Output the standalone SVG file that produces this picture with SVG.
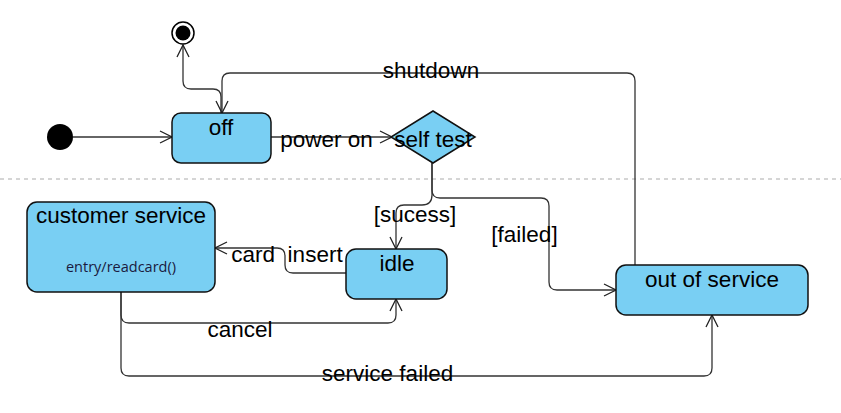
<svg xmlns="http://www.w3.org/2000/svg" width="841" height="413" viewBox="0 0 841 413">
<defs>
<marker id="arr" viewBox="0 0 14 14" refX="13" refY="7" markerWidth="14" markerHeight="14" markerUnits="userSpaceOnUse" orient="auto">
<path d="M1,1 L13,7 L1,13" fill="none" stroke="#222" stroke-width="1.3"/>
</marker>
<style>
.node{fill:#79CFF3;stroke:#111;stroke-width:1.5}
.lbl{font-family:"Liberation Sans",Arial,sans-serif;font-size:22.5px;fill:#000;text-anchor:middle}
.edge{fill:none;stroke:#333;stroke-width:1.3;marker-end:url(#arr)}
</style>
</defs>
<rect width="841" height="413" fill="#fff"/>
<line x1="0" y1="179" x2="841" y2="179" stroke="#c8c8c8" stroke-width="1.5" stroke-dasharray="4,4"/>
<g id="connectors">
<path class="edge" d="M73,137 H172"/>
<path class="edge" d="M271,137 H392"/>
<path class="edge" d="M221,113 V97 Q221,89 213,89 H191 Q183,89 183,81 V45"/>
<path class="edge" d="M635,265 V81 Q635,73 627,73 H230 Q222,73 222,81 V113"/>
<path class="edge" d="M432,163 V195 Q432,205 422,205 H404 Q396,205 396,213 V249"/>
<path class="edge" d="M432,163 V190 Q432,198 440,198 H541 Q549,198 549,206 V282 Q549,290 557,290 H616"/>
<path class="edge" d="M346,273 H293 Q285,273 285,265 V256 Q285,248 277,248 H215"/>
<path class="edge" d="M121,292 V315 Q121,323 129,323 H388 Q396,323 396,315 V299"/>
<path class="edge" d="M121,292 V368 Q121,376 129,376 H704 Q712,376 712,368 V315"/>
</g>
<g id="labels">
<text class="lbl" x="326.5" y="147">power on</text>
<text class="lbl" x="431" y="78">shutdown</text>
<text class="lbl" x="415" y="222">[sucess]</text>
<text class="lbl" x="524.5" y="242">[failed]</text>
<text class="lbl" x="287" y="262" xml:space="preserve">card  insert</text>
<text class="lbl" x="240" y="337">cancel</text>
<text class="lbl" x="387.5" y="381">service failed</text>
</g>
<g id="initial"><circle cx="60" cy="137" r="13" fill="#000"/></g>
<g id="final"><circle cx="183" cy="33" r="11" fill="#fff" stroke="#000" stroke-width="1.5"/><circle cx="183" cy="33" r="7.5" fill="#000"/></g>
<g id="off"><rect class="node" x="172" y="113" width="99" height="50" rx="9"/><text class="lbl" x="221" y="135">off</text></g>
<g id="selftest"><polygon class="node" points="433,111 475,137 433,163 391,137"/><text class="lbl" x="433" y="147">self test</text></g>
<g id="customer"><rect class="node" x="27" y="202" width="188" height="90" rx="10"/><text class="lbl" x="121" y="223">customer service</text><text x="121" y="272" text-anchor="middle" font-family="'Open Sans','Noto Sans',sans-serif" font-size="14.5" fill="#1a1a40">entry/readcard()</text></g>
<g id="idle"><rect class="node" x="346" y="249" width="101" height="50" rx="10"/><text class="lbl" x="397" y="271">idle</text></g>
<g id="outofservice"><rect class="node" x="616" y="265" width="192" height="50" rx="10"/><text class="lbl" x="712" y="287">out of service</text></g>
</svg>
